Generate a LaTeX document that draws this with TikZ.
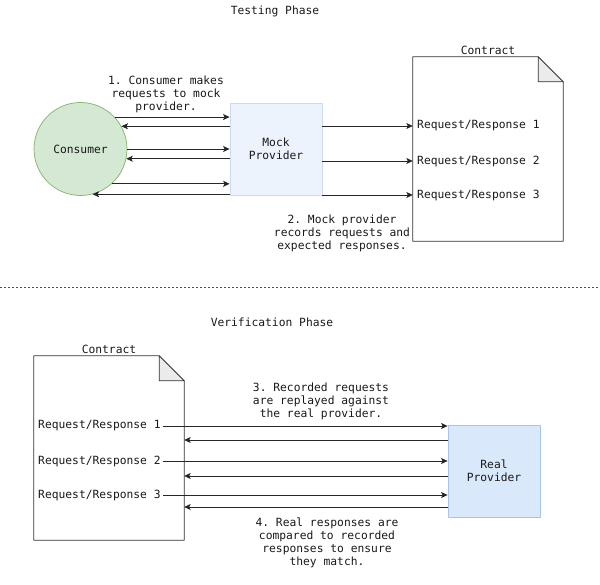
\documentclass[tikz,border=0pt]{standalone}
\usepackage{fontspec}
\setmonofont{DejaVu Sans Mono}
\usepackage{tikz}
\usetikzlibrary{arrows.meta}
\usetikzlibrary{calc}
\definecolor{cfill}{HTML}{D5E8D4}
\definecolor{cline}{HTML}{82B366}
\definecolor{mfill}{HTML}{EDF3FD}
\definecolor{mline}{HTML}{CCDAF0}
\definecolor{rfill}{HTML}{DAE8FC}
\definecolor{rline}{HTML}{A9C4EB}
\definecolor{fold}{HTML}{EBEBEB}
\tikzset{t/.style={font=\ttfamily\fontsize{11.3}{13}\selectfont, text=black!90, inner sep=2pt}}
\tikzset{l/.style={t, align=center}}
\tikzset{c/.style={->, draw=black!85, line width=0.8pt}}

\begin{document}
\begin{tikzpicture}[x=1pt, y=-1pt, >={Stealth[length=6.5pt,width=6pt,inset=1.5pt]}, line join=round]
          \useasboundingbox (0,0) rectangle (600,585);
          % testing phase
          \node [t] (P) at (275,11) {Testing Phase};
          \node [t, circle, draw=cline, fill=cfill, minimum size=93pt, line width=0.7pt] (C) at (80.5,149) {Consumer};
          \node [l, draw=mline, fill=mfill, minimum width=92pt, minimum height=92pt, line width=0.8pt] (M) at (276,149) {Mock\\Provider};
          \node [inner sep=0, minimum width=150pt, minimum height=184pt] (T) at (488,149) {};
          \filldraw [draw=black!80, fill=white, line width=0.8pt] (T.north west) -- ($(T.north east)+(-25,0)$) -- ($(T.north east)+(0,25)$) -- (T.south east) -- (T.south west) -- cycle;
          \filldraw [draw=black!80, fill=fold, line width=0.8pt] ($(T.north east)+(-25,0)$) -- ($(T.north east)+(-25,25)$) -- ($(T.north east)+(0,25)$) -- cycle;
          \node [t, above] (TL) at (T.north) {Contract};
          \node [t, anchor=west] (T1) at (415,126) {Request/Response 1};
          \node [t, anchor=west] (T2) at (415,161) {Request/Response 2};
          \node [t, anchor=west] (T3) at (415,195) {Request/Response 3};
          \node [l] (N1) at (166,94) {1. Consumer makes\\requests to mock\\provider.};
          \node [l] (N2) at (342,233) {2. Mock provider\\records requests and\\expected responses.};
          \draw [c] (C.43.5) -- (C.43.5 -| M.west);
          \draw [c] (M.west |- C.29.6) -- (C.29.6);
          \draw [c] (C.0) -- (C.0 -| M.west);
          \draw [c] (M.west |- C.-12.4) -- (C.-12.4);
          \draw [c] (C.-48.8) -- (C.-48.8 -| M.west);
          \draw [c] (M.west |- C.-75.4) -- (C.-75.4);
          \foreach \i in {1,2,3}
            \draw [c] (M.east |- T\i.west) -- (T.west |- T\i.west);
          % divider
          \draw [black!70, dash pattern=on 2pt off 2pt, line width=0.6pt] (0,287) -- (600,287);
          % verification phase
          \node [t] (Q) at (272,322) {Verification Phase};
          \node [inner sep=0, minimum width=150pt, minimum height=184pt] (V) at (109,448) {};
          \filldraw [draw=black!80, fill=white, line width=0.8pt] (V.north west) -- ($(V.north east)+(-25,0)$) -- ($(V.north east)+(0,25)$) -- (V.south east) -- (V.south west) -- cycle;
          \filldraw [draw=black!80, fill=fold, line width=0.8pt] ($(V.north east)+(-25,0)$) -- ($(V.north east)+(-25,25)$) -- ($(V.north east)+(0,25)$) -- cycle;
          \node [t, above] (VL) at (V.north) {Contract};
          \node [t, anchor=west] (V1) at (36,426) {Request/Response 1};
          \node [t, anchor=west] (V2) at (36,461) {Request/Response 2};
          \node [t, anchor=west] (V3) at (36,495) {Request/Response 3};
          \node [l, draw=rline, fill=rfill, minimum width=92pt, minimum height=92pt, line width=0.8pt] (R) at (494,471) {Real\\Provider};
          \node [l] (N3) at (321,401) {3. Recorded requests\\are replayed against\\the real provider.};
          \node [l] (N4) at (327,542.5) {4. Real responses are\\compared to recorded\\responses to ensure\\they match.};
          \foreach \i in {1,2,3}
            \draw [c] (V\i.east) -- (R.west |- V\i.east);
          \foreach \y in {440,476,507}
            \draw [c] (R.west |- 0,\y) -- (V.east |- 0,\y);
        \end{tikzpicture}
\end{document}
